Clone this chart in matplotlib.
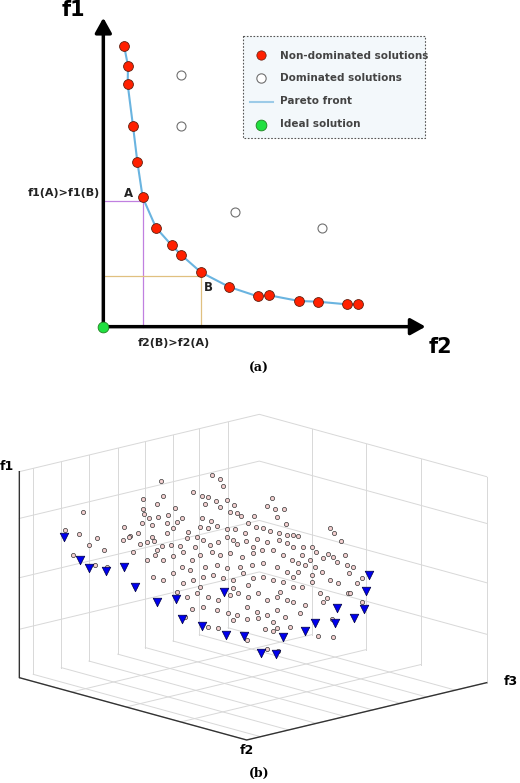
import numpy as np
import matplotlib.pyplot as plt

# ---- panel (a) data, in reference pixel coords (3x zoom units) ----
nd_x = [372, 384, 383, 399, 412, 428, 468, 515, 544, 603, 688, 773, 808, 897, 953, 1041, 1075]
nd_y = [137, 197, 253, 378, 485, 592, 683, 736, 765, 817, 861, 889, 886, 903, 905, 913, 913]
dom_x = [544, 544, 704, 967]
dom_y = [225, 378, 635, 683]
ideal = (310, 980)

# ---- panel (b) data, projected coords (3x zoom units) ----
tri = [(193,472),(241,540),(268,563),(318,572),(373,560),(405,620),(470,665),(528,656),
       (545,717),(607,738),(672,636),(678,765),(732,768),(849,772),(783,820),(827,822),
       (916,752),(944,728),(1005,730),(1010,685),(1063,713),(1092,688),(1098,632),(1107,585)]
circ = [(195,450),(250,397),(237,463),(292,475),(268,495),(311,510),(218,526),(285,555),(320,560),
 (405,617),(372,440),(391,468),(414,460),(428,357),(488,348),(484,303),(470,372),(428,388),(433,403),
 (448,413),(474,412),(503,405),(526,383),(545,415),(427,428),(456,435),(500,430),(531,425),(579,337),
 (606,348),(624,350),(637,284),(661,296),(670,319),(648,363),(680,360),(616,372),(659,382),(689,395),
 (703,375),(711,399),(723,408),(762,407),(606,413),(632,424),(599,442),(625,445),(651,438),(681,447),
 (705,448),(743,430),(768,440),(790,443),(817,354),(800,378),(825,388),(851,388),(832,412),(857,433),
 (811,453),(837,460),(861,465),(880,465),(893,467),(990,445),(1002,460),(1024,484),(388,470),(370,480),
 (440,485),(420,493),(462,482),(486,497),(470,510),(514,495),(540,497),(560,475),(590,470),(610,480),
 (655,485),(680,470),(712,492),(738,484),(770,478),(800,485),(837,480),(860,490),(910,500),(937,500),
 (948,515),(970,535),(983,522),(1000,530),(1010,545),(1035,525),(1040,555),(1060,560),(1048,580),
 (1085,595),(400,515),(440,540),(465,525),(490,540),(520,527),(550,515),(575,540),(600,525),(635,515),
 (660,525),(690,520),(725,530),(760,520),(785,510),(820,510),(850,525),(875,540),(895,550),(915,555),
 (945,560),(965,575),(990,600),(1015,610),(1045,640),(1070,610),(1085,665),(460,590),(490,600),
 (520,578),(550,610),(580,600),(610,590),(640,585),(670,595),(700,600),(730,580),(760,595),(790,590),
 (820,600),(850,605),(880,590),(905,620),(935,605),(960,640),(980,655),(530,635),(560,650),(590,640),
 (625,650),(655,660),(690,645),(715,640),(745,650),(775,640),(800,660),(830,650),(860,660),(880,665),
 (915,675),(970,665),(575,688),(610,680),(650,690),(685,700),(710,705),(740,680),(770,695),(800,705),
 (830,690),(855,710),(900,700),(555,710),(625,742),(655,745),(700,720),(740,718),(775,715),(820,725),
 (830,745),(870,742),(795,748),(820,752),(955,768),(1000,770),(740,780),(800,808),(835,812),(995,718),
 (1050,640),(455,470),(500,460),(520,445),(565,455),(585,500),(630,495),(700,480),(735,460),(760,500),
 (880,500),(905,525),(930,540),(880,620),(840,635),(700,625),(745,615),(600,620),(570,570),(545,560),
 (615,560),(650,555),(680,565),(720,560),(755,555),(790,550),(830,560),(860,575),(895,575),(935,585)]
f1_levels = [0.235, 0.485, 0.773, 1.0]
left_div = [0.058, 0.175, 0.29, 0.41, 0.525, 0.64, 0.75, 0.87]
right_div = [0.23, 0.47, 0.71]

fig = plt.figure(figsize=(5.2, 7.83), dpi=100)
ax = fig.add_axes([0, 0, 1, 1])
ax.set_xlim(0, 520); ax.set_ylim(783, 0); ax.axis("off")
s = lambda v: np.asarray(v, float) / 3

# ---------------- panel (a) ----------------
ax.annotate("", xy=s([310, 45]), xytext=s(ideal),
            arrowprops=dict(arrowstyle="-|>,head_width=0.5,head_length=0.9", lw=2.5, color="black"))
ax.annotate("", xy=s([1285, 980]), xytext=s(ideal),
            arrowprops=dict(arrowstyle="-|>,head_width=0.5,head_length=0.9", lw=2.5, color="black"))
ax.plot(s([310, 428, 428]), s([603, 603, 980]), color="#c080e0", lw=0.9)
ax.plot(s([310, 603, 603]), s([829, 829, 980]), color="#e0c080", lw=0.9)
ax.plot(s(nd_x), s(nd_y), color="#6ab4e0", lw=1.5, zorder=3)
ax.scatter(s(nd_x), s(nd_y), s=50, c="#ff2000", edgecolors="#602010", lw=0.6, zorder=4)
ax.scatter(s(dom_x), s(dom_y), s=42, c="white", edgecolors="#707070", lw=0.8, zorder=4)
ax.scatter(*s(ideal), s=60, c="#20e040", edgecolors="#208020", lw=0.6, zorder=5)
ax.text(*s([220, 30]), "f1", fontsize=15, fontweight="bold", ha="center", va="center")
ax.text(*s([1320, 1040]), "f2", fontsize=15, fontweight="bold", ha="center", va="center")
ax.text(*s([192, 580]), "f1(A)>f1(B)", fontsize=8, fontweight="bold", ha="center", va="center", color="#222")
ax.text(*s([522, 1030]), "f2(B)>f2(A)", fontsize=8, fontweight="bold", ha="center", va="center", color="#222")
ax.text(*s([384, 580]), "A", fontsize=8.5, fontweight="bold", ha="center", va="center", color="#222")
ax.text(*s([625, 863]), "B", fontsize=8.5, fontweight="bold", ha="center", va="center", color="#222")
ax.text(*s([776, 1105]), "(a)", fontsize=9, fontweight="bold", family="DejaVu Serif", ha="center", va="center")

# legend box
ax.add_patch(plt.Rectangle(s([728, 107]), 547/3, 306/3, fc="#f3f8fb", ec="#555", lw=0.8, ls=(0, (1.5, 1.5))))
ax.scatter(*s([783, 166]), s=45, c="#ff2000", edgecolors="#602010", lw=0.5)
ax.scatter(*s([783, 233]), s=45, c="white", edgecolors="#707070", lw=0.8)
ax.plot(s([750, 820]), s([305, 305]), color="#9ccbe8", lw=1.5)
ax.scatter(*s([783, 375]), s=60, c="#20e040", edgecolors="#208020", lw=0.6)
for y, t in [(168, "Non-dominated solutions"), (235, "Dominated solutions"),
             (303, "Pareto front"), (372, "Ideal solution")]:
    ax.text(*s([840, y]), t, fontsize=7.5, fontweight="bold", color="#444", va="center")

# ---------------- panel (b) ----------------
def p(xy):
    return np.asarray(xy, float) / 3 + np.array([0, 380])

B = np.array([778, 721.]); L = np.array([58, 893.]); R = np.array([1460, 908.]); H = np.array([0, -618.])
g = dict(color="#d8d8d8", lw=0.7, zorder=1)
for h in f1_levels:
    pts = [L + h * H, B + h * H, R + h * H]
    ax.plot(*p(pts).T, **g)
for a in left_div + [0.0]:
    q0 = B + (1 - a) * (L - B)
    ax.plot(*p([q0, q0 + H]).T, **g)
    ax.plot(*p([q0, q0 + (R - B)]).T, **g)
for b in right_div + [1.0]:
    q0 = B + b * (R - B)
    ax.plot(*p([q0, q0 + H]).T, **g)
    ax.plot(*p([q0, q0 + (L - B)]).T, **g)
F = L + R - B
ax.plot(*p([L + H, L, F, R]).T, color="#333", lw=1.0, zorder=2)

cx, cy = zip(*circ)
ax.scatter(*p(np.c_[cx, cy]).T, s=9, c="#f4d0d0", edgecolors="#333", lw=0.5, zorder=3)
tx, ty = zip(*tri)
ax.scatter(*p(np.c_[tx, ty]).T, s=38, marker="v", c="#0000ee", edgecolors="#000040", lw=0.5, zorder=4)
ax.text(*p([22, 258]), "f1", fontsize=9, fontweight="bold", ha="center", va="center")
ax.text(*p([740, 1112]), "f2", fontsize=9, fontweight="bold", ha="center", va="center")
ax.text(*p([1532, 905]), "f3", fontsize=9, fontweight="bold", ha="center", va="center")
ax.text(*p([778, 1180]), "(b)", fontsize=9, fontweight="bold", family="DejaVu Serif", ha="center", va="center")

fig.savefig("out.png", dpi=100)
